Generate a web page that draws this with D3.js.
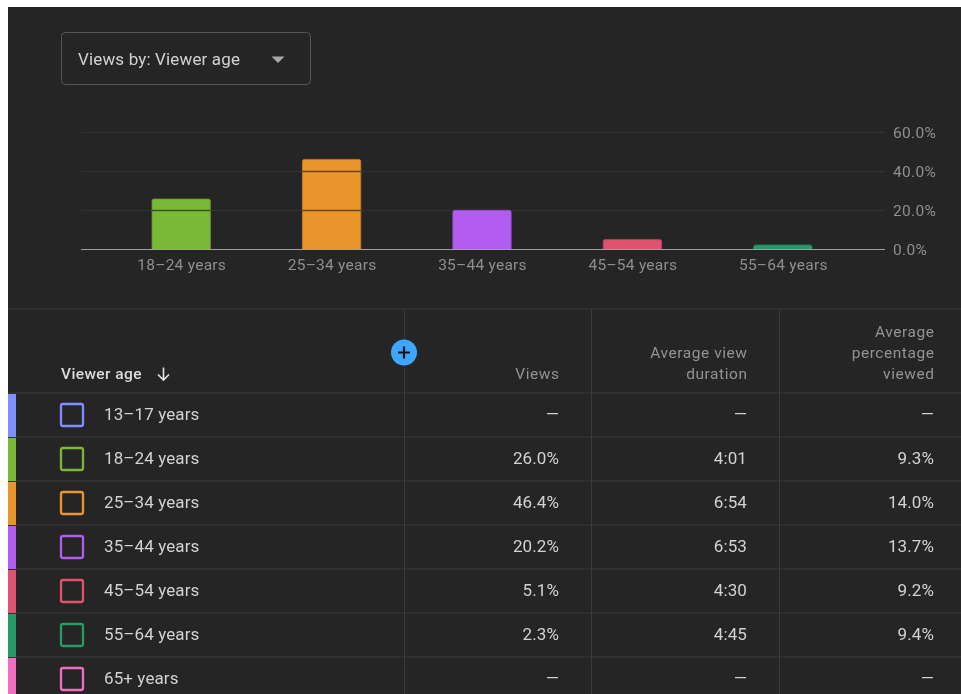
<!DOCTYPE html>
<html><head><meta charset="utf-8">
<script src="https://cdn.jsdelivr.net/npm/d3@7/dist/d3.min.js"></script>
<style>html,body{margin:0;padding:0;background:#fff}svg{display:block;font-family:Roboto,sans-serif;filter:blur(0.5px)}</style>
</head><body><svg id="c" width="961" height="694"></svg>
<script>
const chartAges = ["18–24 years","25–34 years","35–44 years","45–54 years","55–64 years"];
const chartViews = [26.0,46.4,20.2,5.1,2.3];
const chartColors = ["#7ab838","#e8952b","#b25cf0","#e0536f","#269b68"];
const yTicks = [0,20,40,60];
const rowAges = ["13–17 years","18–24 years","25–34 years","35–44 years","45–54 years","55–64 years","65+ years"];
const rowColors = ["#7f8fff","#7ab838","#e8952b","#b25cf0","#e0536f","#269b68","#f06fc0"];
const rowViews = ["—","26.0%","46.4%","20.2%","5.1%","2.3%","—"];
const rowDuration = ["—","4:01","6:54","6:53","4:30","4:45","—"];
const rowPercent = ["—","9.3%","14.0%","13.7%","9.2%","9.4%","—"];

const svg = d3.select("#c");
svg.append("rect").attr("x",8).attr("y",7).attr("width",953).attr("height",687).attr("fill","#252525");

// dropdown
svg.append("rect").attr("x",61.5).attr("y",32.5).attr("width",249).attr("height",52).attr("rx",4)
  .attr("fill","none").attr("stroke","#565656");
svg.append("text").attr("x",78).attr("y",65).attr("font-size",17).attr("letter-spacing",0.15).attr("fill","#d2d2d2").text("Views by: Viewer age");
svg.append("path").attr("d","M271.5 56.5h13l-6.5 6.5z").attr("fill","#a8a8a8");

// chart
const x = d3.scaleBand().domain(chartAges).range([106,858]).paddingInner(0.612).paddingOuter(0.306);
const y = d3.scaleLinear().domain([0,60]).range([249.5,133]);
const grid = svg.append("g");
grid.selectAll("line").data(yTicks.filter(t=>t>0)).join("line")
  .attr("x1",81).attr("x2",885).attr("y1",d=>Math.round(y(d))-0.5).attr("y2",d=>Math.round(y(d))-0.5)
  .attr("stroke","#323232");
const bars = svg.append("g");
bars.selectAll("path").data(chartAges).join("path")
  .attr("d",(d,i)=>{
    const x0=x(d), w=x.bandwidth(), t=y(chartViews[i]), r=Math.min(2,y(0)-t);
    return `M${x0} ${y(0)}V${t+r}Q${x0} ${t} ${x0+r} ${t}H${x0+w-r}Q${x0+w} ${t} ${x0+w} ${t+r}V${y(0)}Z`;
  })
  .attr("fill",(d,i)=>chartColors[i])
  .attr("stroke",(d,i)=>d3.color(chartColors[i]).darker(0.5))
  .attr("stroke-width",0.8);
chartAges.forEach((a,i)=>{
  bars.selectAll(null).data(yTicks.filter(t=>t>0 && t<chartViews[i]-1)).join("line")
    .attr("x1",x(a)).attr("x2",x(a)+x.bandwidth())
    .attr("y1",d=>Math.round(y(d))-0.5).attr("y2",d=>Math.round(y(d))-0.5)
    .attr("stroke","#000").attr("stroke-opacity",0.55).attr("stroke-width",1.3);
});
svg.append("line").attr("x1",81).attr("x2",885).attr("y1",249.5).attr("y2",249.5).attr("stroke","#a0a0a0").attr("stroke-width",1.2);
svg.append("g").selectAll("text").data(yTicks).join("text")
  .attr("x",893).attr("y",d=>y(d)+5).attr("font-size",15.5).attr("letter-spacing",0.3).attr("fill","#8f8f8f").text(d=>d.toFixed(1)+"%");
svg.append("g").selectAll("text").data(chartAges).join("text")
  .attr("x",d=>x(d)+x.bandwidth()/2+0.5).attr("y",270).attr("text-anchor","middle")
  .attr("font-size",15.5).attr("letter-spacing",0.25).attr("fill","#8f8f8f").text(d=>d);

// table
const rowY = d3.scaleBand().domain(rowAges).range([392.5,700.5]);
const line = "#3a3a3a";
svg.append("line").attr("x1",8).attr("x2",961).attr("y1",309).attr("y2",309).attr("stroke",line);
svg.append("line").attr("x1",8).attr("x2",961).attr("y1",393).attr("y2",393).attr("stroke",line);
svg.append("g").selectAll("line").data(rowAges.slice(1)).join("line")
  .attr("x1",8).attr("x2",961).attr("y1",d=>rowY(d)+0.5).attr("y2",d=>rowY(d)+0.5).attr("stroke",line);
svg.append("g").selectAll("line").data([404.5,591.5,779.5]).join("line")
  .attr("x1",d=>d).attr("x2",d=>d).attr("y1",309).attr("y2",694).attr("stroke",line);

// headers
svg.append("text").attr("x",61).attr("y",379).attr("font-size",15.5).attr("font-weight",500).attr("letter-spacing",0.4).attr("fill","#dcdcdc").text("Viewer age");
svg.append("path").attr("d","M163.5 367.5v12M158 374.5l5.5 5.5 5.5-5.5").attr("fill","none").attr("stroke","#e4e4e4").attr("stroke-width",1.6);
const hdr = (xp,lines)=>lines.forEach((t,i)=>svg.append("text").attr("x",xp)
  .attr("y",379-(lines.length-1-i)*21).attr("text-anchor","end").attr("font-size",15.5).attr("letter-spacing",0.55).attr("fill","#939393").text(t));
hdr(559.5,["Views"]);
hdr(747.5,["Average view","duration"]);
hdr(934.5,["Average","percentage","viewed"]);

// plus button
svg.append("circle").attr("cx",404).attr("cy",352.5).attr("r",13).attr("fill","#3ea6ff");
svg.append("path").attr("d","M404 346.5v12M398 352.5h12").attr("stroke","#111").attr("stroke-width",2.2).attr("fill","none");

// rows
const rows = svg.append("g").selectAll("g").data(rowAges).join("g").attr("transform",d=>`translate(0,${rowY(d)})`);
rows.append("rect").attr("x",8).attr("y",1.5).attr("width",8).attr("height",43).attr("fill",(d,i)=>rowColors[i]);
rows.append("rect").attr("x",61).attr("y",11.5).attr("width",22).attr("height",22).attr("rx",2)
  .attr("fill","none").attr("stroke",(d,i)=>rowColors[i]).attr("stroke-width",2.3);
rows.append("text").attr("x",104).attr("y",27.5).attr("font-size",17).attr("letter-spacing",0.1).attr("fill","#d2d2d2").text(d=>d);
const cell = (xp,arr)=>rows.append("text").attr("x",xp).attr("y",27.5).attr("text-anchor","end")
  .attr("font-size",17).attr("letter-spacing",0.1).attr("fill","#d2d2d2").text((d,i)=>arr[i]);
cell(559,rowViews); cell(747,rowDuration); cell(934,rowPercent);
</script></body></html>
